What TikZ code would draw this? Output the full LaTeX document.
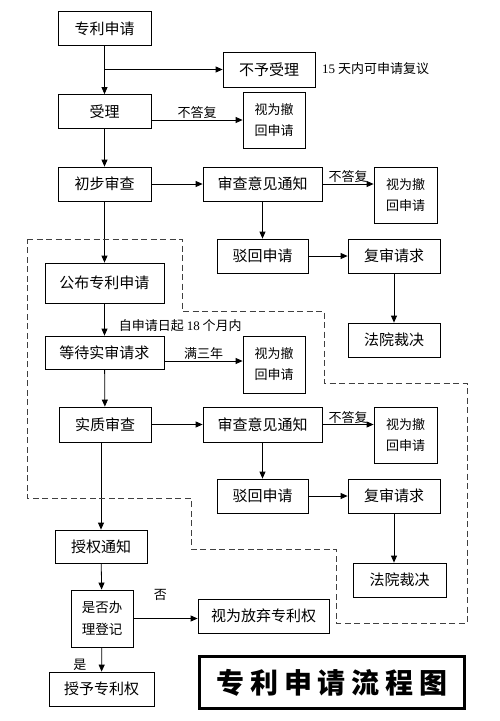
\documentclass[tikz,border=0pt]{standalone}
\usepackage{fontspec}
\setmainfont{Liberation Serif}
\newfontfamily\cjk{Noto Sans CJK SC}
\usetikzlibrary{positioning,arrows.meta,calc}

\begin{document}
\begin{tikzpicture}[
    x=1pt, y=-1pt,
    >={Triangle[length=7pt,width=6pt]},
    box/.style={rectangle, draw, line width=0.8pt, minimum width=93pt, minimum height=34pt, inner sep=0pt, font=\cjk\fontsize{15}{18}\selectfont},
    widebox/.style={box, minimum width=119pt},
    smallbox/.style={rectangle, draw, line width=0.8pt, minimum width=62pt, minimum height=56pt, inner sep=0pt, align=center, font=\cjk\fontsize{13}{21}\selectfont},
    titlebox/.style={rectangle, draw, line width=3pt, minimum width=265pt, minimum height=52pt, inner sep=0pt, font=\cjk\bfseries\fontsize{28}{30}\selectfont},
    lbl/.style={font=\cjk\fontsize{13}{15}\selectfont, inner sep=1pt},
    arrow/.style={->, line width=0.8pt},
    zone/.style={dashed, dash pattern=on 6pt off 3.5pt, line width=1pt, black!75}
]
\useasboundingbox (0,0) rectangle (500,721);

\node[box] (apply) at (104.5,28.5) {专利申请};
\node[box, minimum width=92pt, minimum height=35pt] (refuse) at (269,69.5) {不予受理};
\node[lbl, anchor=west] (review15) at (321,69) {{\rmfamily 15} 天内可申请复议};
\node[box] (accept) at (104.5,111.5) {受理};
\node[smallbox] (wd1) at (274,120) {视为撤\\回申请};

\node[box] (prelim) at (104.5,184) {初步审查};
\node[widebox] (notice1) at (262.5,184) {审查意见通知};
\node[smallbox, minimum width=63pt] (wd2) at (405.5,195) {视为撤\\回申请};
\node[box, minimum width=91pt] (reject1) at (262.5,256) {驳回申请};
\node[box, minimum width=92pt] (recheck1) at (394,256) {复审请求};
\node[box, minimum width=92pt] (court1) at (394,340) {法院裁决};

\node[widebox, minimum height=40pt] (publish) at (104.5,283) {公布专利申请};
\node[widebox, minimum height=33pt] (wait) at (104.5,352.5) {等待实审请求};
\node[smallbox, minimum height=57pt] (wd3) at (274,364.5) {视为撤\\回申请};

\node[box, minimum width=92pt, minimum height=35pt] (subst) at (105,424.5) {实质审查};
\node[widebox, minimum height=35pt] (notice2) at (262.5,424.5) {审查意见通知};
\node[smallbox, minimum width=63pt] (wd4) at (405.5,435) {视为撤\\回申请};
\node[box, minimum width=91pt] (reject2) at (262.5,496) {驳回申请};
\node[box, minimum width=92pt] (recheck2) at (394,496) {复审请求};
\node[box] (court2) at (399.5,580) {法院裁决};

\node[box, minimum width=92pt, minimum height=33pt] (grant) at (101,546.5) {授权通知};
\node[smallbox, minimum height=57pt, font=\cjk\fontsize{13.5}{22}\selectfont] (register) at (102,618.5) {是否办\\理登记};
\node[box, minimum width=131pt] (abandon) at (263.5,616) {视为放弃专利权};
\node[box, minimum width=105pt] (patent) at (101.5,689) {授予专利权};

\node[titlebox] (title) at (332,682.5) {专\hspace{5.7pt}利\hspace{5.7pt}申\hspace{5.7pt}请\hspace{5.7pt}流\hspace{5.7pt}程\hspace{5.7pt}图};

\coordinate (wd3in) at ([yshift=3.5pt]wd3.west);

\draw[arrow] (apply) -- (accept);
\draw[arrow] (apply.south |- refuse) -- (refuse);
\draw[arrow] (accept.east |- wd1) -- (wd1) node[lbl, midway, above] {不答复};
\draw[arrow] (accept) -- (prelim);

\draw[arrow] (prelim) -- (notice1);
\draw[arrow] (notice1) -- (notice1 -| wd2.west) node[lbl, midway, above] {不答复};
\draw[arrow] (notice1) -- (reject1);
\draw[arrow] (reject1) -- (recheck1);
\draw[arrow] (recheck1) -- (court1);

\draw[arrow] (prelim) -- (publish);
\draw[arrow] (publish) -- (wait) node[lbl, pos=0.7, right, xshift=13pt] {自申请日起 {\rmfamily 18} 个月内};
\draw[arrow] (wait.east |- wd3in) -- (wd3in) node[lbl, midway, above] {满三年};
\draw[arrow] (wait) -- (subst);

\draw[arrow] (subst) -- (notice2);
\draw[arrow] (notice2) -- (notice2 -| wd4.west) node[lbl, midway, above] {不答复};
\draw[arrow] (notice2) -- (reject2);
\draw[arrow] (reject2) -- (recheck2);
\draw[arrow] (recheck2) -- (recheck2 |- court2.north);

\draw[arrow] (subst.south -| grant) -- (grant);
\draw[arrow] (grant) -- (register);
\draw[arrow] (register) -- (register -| abandon.west) node[lbl, pos=0.42, above, yshift=17pt] {否};
\draw[arrow] (register) -- (patent) node[lbl, pos=0.72, left, xshift=-14pt] {是};

% examination zone
\draw[zone] (27,239) -| (182,311) -| (324,383) -| (467,623) -| (336,549) -| (191,498) -| (27,239) -- cycle;
\end{tikzpicture}
\end{document}
